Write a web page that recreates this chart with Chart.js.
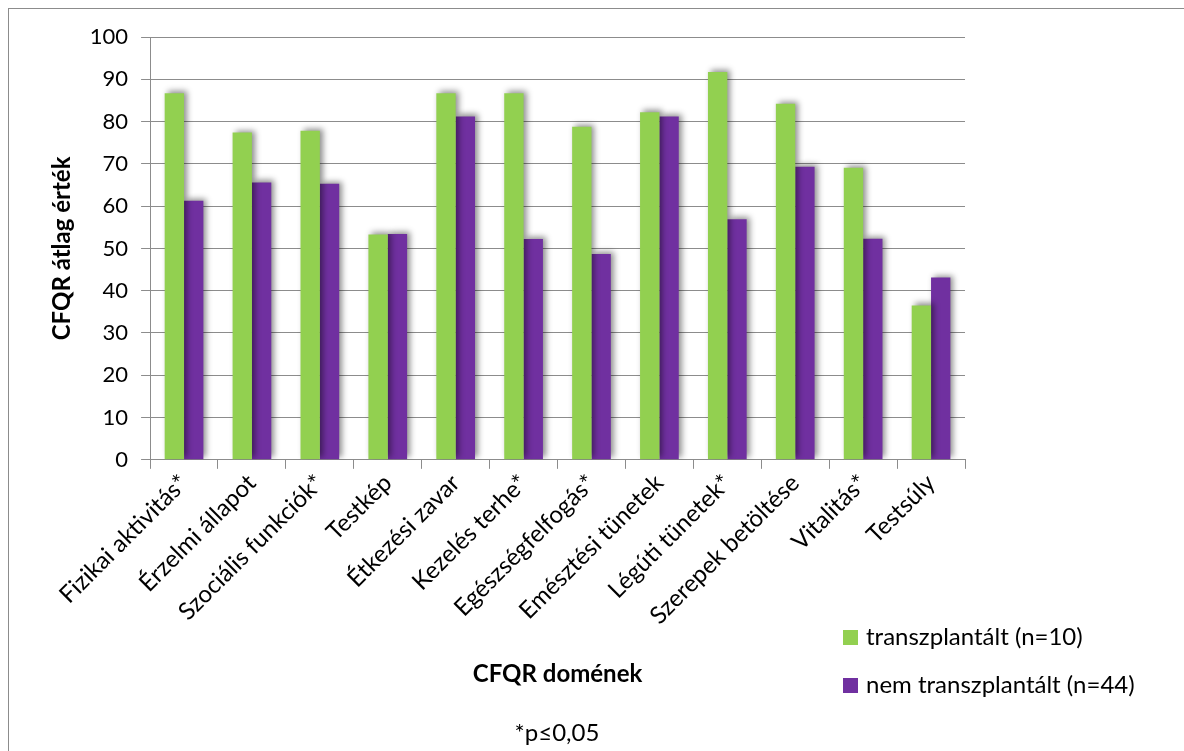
<!DOCTYPE html>
<html>
<head>
<meta charset="utf-8">
<script src="https://cdn.jsdelivr.net/npm/chart.js@4"></script>
<style>
    html, body { margin: 0; padding: 0; background: #fff; }
    #wrap { position: relative; width: 1184px; height: 751px; overflow: hidden; font-family: Lato, "Open Sans", sans-serif; }
    #frame { position: absolute; left: 8px; top: 8px; width: 1190px; height: 760px; border: 1px solid #8c8c8c; box-sizing: border-box; }
    #chart { position: absolute; left: 0; top: 0; }
    .leg { position: absolute; left: 843px; font-size: 24px; line-height: 30px; color: #000; white-space: nowrap; }
    .leg span { display: inline-block; width: 15px; height: 15px; margin-right: 8px; vertical-align: 0px; }
    #note { position: absolute; left: 457px; width: 200px; top: 717px; text-align: center; font-size: 24px; line-height: 30px; }
</style>
</head>
<body>
<div id="wrap">
    <div id="frame"></div>
    <canvas id="chart" width="1184" height="751"></canvas>
    <div class="leg" style="top: 621px;"><span style="background:#92d050"></span>transzplantált (n=10)</div>
    <div class="leg" style="top: 669px;"><span style="background:#7030a0"></span>nem transzplantált (n=44)</div>
    <div id="note">*p≤0,05</div>
</div>
<script>
    // Kategóriák és értékek
    const domains = ['Fizikai aktivitás*', 'Érzelmi állapot', 'Szociális funkciók*', 'Testkép', 'Étkezési zavar',
        'Kezelés terhe*', 'Egészségfelfogás*', 'Emésztési tünetek', 'Légúti tünetek*', 'Szerepek betöltése',
        'Vitalitás*', 'Testsúly'];
    const transplanted = [86.7, 77.4, 77.8, 53.3, 86.7, 86.7, 78.8, 82.2, 91.7, 84.2, 69.1, 36.5];
    const notTransplanted = [61.3, 65.6, 65.3, 53.4, 81.2, 52.2, 48.7, 81.2, 56.9, 69.3, 52.3, 43.1];
    const yTicks = [0, 10, 20, 30, 40, 50, 60, 70, 80, 90, 100];

    // Árnyék az oszlopokhoz
    const barShadow = {
        id: 'barShadow',
        beforeDatasetsDraw(chart) {
            const ctx = chart.ctx;
            ctx.save();
            ctx.shadowColor = 'rgba(0,0,0,0.45)';
            ctx.shadowBlur = 6;
            ctx.shadowOffsetX = 3;
            ctx.shadowOffsetY = -2;
        },
        afterDatasetsDraw(chart) {
            chart.ctx.restore();
        }
    };

    const font = 'Lato, "Open Sans", sans-serif';

    new Chart(document.getElementById('chart'), {
        type: 'bar',
        data: {
            labels: domains,
            datasets: [{
                label: 'transzplantált (n=10)',
                data: transplanted,
                backgroundColor: '#92d050',
                barPercentage: 1,
                categoryPercentage: 0.57
            }, {
                label: 'nem transzplantált (n=44)',
                data: notTransplanted,
                backgroundColor: '#7030a0',
                barPercentage: 1,
                categoryPercentage: 0.57
            }]
        },
        options: {
            responsive: false,
            animation: false,
            layout: { padding: { top: 37, right: 219, left: 48, bottom: 62 } },
            plugins: {
                legend: { display: false },
                tooltip: { enabled: false }
            },
            scales: {
                x: {
                    grid: { offset: true, drawOnChartArea: false, color: '#8c8c8c', tickLength: 9 },
                    border: { color: '#8c8c8c' },
                    ticks: { color: '#000', font: { family: font, size: 24 }, minRotation: 45, maxRotation: 45, padding: 0 },
                    title: {
                        display: true,
                        text: 'CFQR domének',
                        color: '#000',
                        font: { family: font, size: 24, weight: 'bold' },
                        padding: { top: 30, bottom: 0 }
                    }
                },
                y: {
                    min: 0,
                    max: 100,
                    afterBuildTicks(axis) { axis.ticks = yTicks.map(v => ({ value: v })); },
                    grid: { color: '#8c8c8c', tickLength: 9 },
                    border: { color: '#8c8c8c' },
                    ticks: { color: '#000', font: { family: font, size: 22 }, padding: 13 },
                    title: {
                        display: true,
                        text: 'CFQR átlag érték',
                        color: '#000',
                        font: { family: font, size: 24, weight: 'bold' },
                        padding: { top: 0, bottom: 0 }
                    }
                }
            }
        },
        plugins: [barShadow]
    });
</script>
</body>
</html>
